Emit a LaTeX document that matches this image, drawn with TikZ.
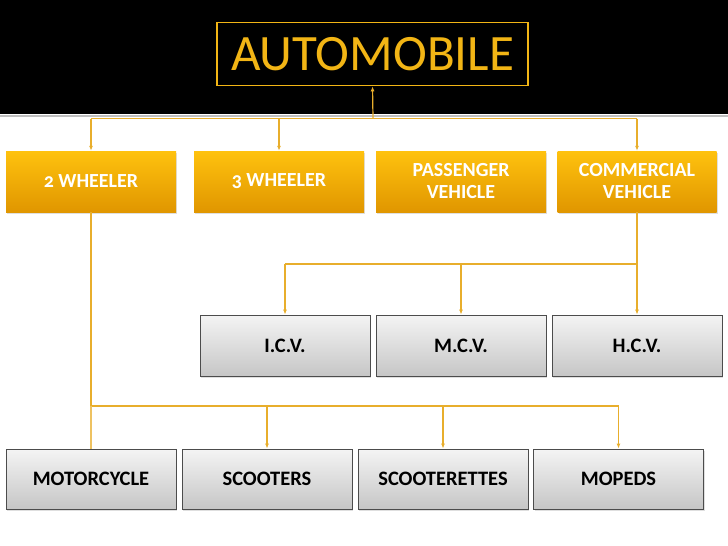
\documentclass[tikz,border=0pt]{standalone}
\usepackage{fontspec}
\setmainfont{Carlito}[Numbers=OldStyle]
\usepackage{tikz}
\usetikzlibrary{arrows.meta,positioning,shadows}

\definecolor{gold}{HTML}{F2B515}
\definecolor{ambertop}{HTML}{FFC20E}
\definecolor{amberbot}{HTML}{E09600}
\definecolor{linkcol}{HTML}{E8AE2C}
\definecolor{greytop}{HTML}{F4F4F4}
\definecolor{greybot}{HTML}{C6C6C6}

\begin{document}
\begin{tikzpicture}[x=1pt, y=-1pt, >={Latex[length=5pt,width=4pt]},
title/.style={rectangle, draw=gold, line width=1.6pt, text=gold, minimum width=311pt, minimum height=63pt, font=\fontsize{51}{53}\selectfont},
block/.style={rectangle, draw=none, top color=ambertop, bottom color=amberbot, text=white, minimum width=170pt, minimum height=61pt, align=center, font=\fontsize{20}{22}\selectfont\bfseries, drop shadow={opacity=0.25, shadow xshift=1pt, shadow yshift=-2pt}},
subblock/.style={rectangle, draw=black!70, line width=0.8pt, top color=greytop, bottom color=greybot, text=black, minimum width=170pt, minimum height=61pt, align=center, font=\fontsize{20.5}{22}\selectfont\bfseries, drop shadow={opacity=0.25, shadow xshift=1pt, shadow yshift=-2pt}},
line/.style={draw=linkcol, line width=1.2pt},
boldline/.style={draw=linkcol, line width=2.6pt}]

\useasboundingbox (0,0) rectangle (728,546);
\fill[black] (0,0) rectangle (728,114);
\draw[black!25, line width=1.2pt] (0,116) -- (728,116);

% Nodes
\node[title] (auto) at (372.5,54) {AUTOMOBILE};

\node[block] (wheel2) at (91,181.5) {2 WHEELER};
\node[block] (wheel3) at (279,181.5) {3 WHEELER};
\node[block] (passenger) at (461,181.5) {PASSENGER\\VEHICLE};
\node[block, minimum width=159pt] (commercial) at (637,181.5) {COMMERCIAL\\VEHICLE};

\node[subblock] (icv) at (285,345.5) {I.C.V.};
\node[subblock] (mcv) at (461,345.5) {M.C.V.};
\node[subblock] (hcv) at (637,345.5) {H.C.V.};

\node[subblock, minimum height=60pt] (motorcycle) at (91,479) {MOTORCYCLE};
\node[subblock, minimum height=60pt] (scooters) at (267,479) {SCOOTERS};
\node[subblock, minimum height=60pt] (scooterettes) at (443,479) {SCOOTERETTES};
\node[subblock, minimum height=60pt] (mopeds) at (618.5,479) {MOPEDS};

% Junctions
\coordinate (hub) at (373,118.5);
\coordinate (cvhub) at (637,264);
\coordinate (twohub) at (91,406);

% Paths
\path[line, ->] (hub) -- (auto.south);
\path[line] (wheel2.north |- hub) -- (commercial.north |- hub);
\path[line, ->] (wheel2.north |- hub) -- (wheel2.north);
\path[line, ->] (wheel3.north |- hub) -- (wheel3.north);
\path[line, ->] (commercial.north |- hub) -- (commercial.north);

\path[line] (commercial.south) -- (cvhub) -- (icv.north |- cvhub);
\path[line, ->] (icv.north |- cvhub) -- (icv.north);
\path[line, ->] (mcv.north |- cvhub) -- (mcv.north);
\path[line, ->] (cvhub) -- (hcv.north);

\path[line, line width=1.8pt] (wheel2.south) -- (twohub);
\path[boldline] (twohub) -- (scooters.north |- twohub);
\path[line, line width=1.6pt] (scooters.north |- twohub) -- (mopeds.north |- twohub);
\path[line, draw=linkcol!75] (twohub) -- (motorcycle.north);
\path[line, ->] (scooters.north |- twohub) -- (scooters.north);
\path[line, ->] (scooterettes.north |- twohub) -- (scooterettes.north);
\path[line, ->] (mopeds.north |- twohub) -- (mopeds.north);
\end{tikzpicture}
\end{document}
